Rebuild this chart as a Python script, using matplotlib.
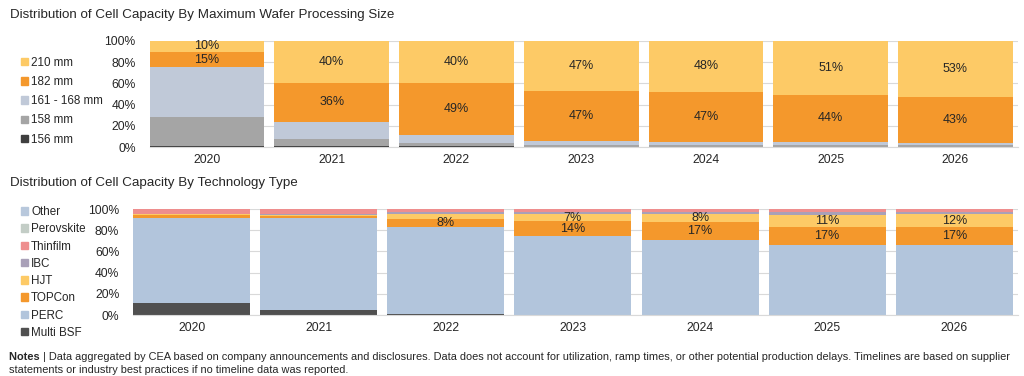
import numpy as np
import matplotlib.pyplot as plt
from matplotlib.patches import Patch

plt.rcParams['font.family'] = ['Liberation Sans', 'DejaVu Sans']

years = ['2020', '2021', '2022', '2023', '2024', '2025', '2026']

# wafer size shares (%)
w156 = [1, 1, 0.5, 0, 0, 0, 0]
w158 = [27, 7, 3.5, 2, 1.5, 2, 2]
w161 = [47, 16, 7, 4, 3.5, 3, 2]
w182 = [15, 36, 49, 47, 47, 44, 43]
w210 = [10, 40, 40, 47, 48, 51, 53]

# technology shares (%)
multi = [11, 4.5, 1, 0.5, 0, 0, 0]
perc = [81, 87, 82, 74, 70.5, 66.5, 66]
topcon = [2, 2, 8, 14, 17, 17, 17]
hjt = [1, 1, 4, 7, 8, 11, 12]
ibc = [0.3, 0.5, 2, 2, 2, 2.5, 2.5]
thinfilm = [4.7, 5, 3, 2.5, 2.5, 3, 2.5]
perovskite = [0, 0, 0, 0, 0, 0, 0]
other = [0, 0, 0, 0, 0, 0, 0]

top_series = [('156 mm', w156, '#3f3f3f', False),
              ('158 mm', w158, '#a5a5a5', False),
              ('161 - 168 mm', w161, '#c0c9d8', False),
              ('182 mm', w182, '#f4982c', True),
              ('210 mm', w210, '#fdca66', True)]

bot_series = [('Multi BSF', multi, '#505050', False),
              ('PERC', perc, '#b2c5dc', False),
              ('TOPCon', topcon, '#f4982c', True),
              ('HJT', hjt, '#fdca66', True),
              ('IBC', ibc, '#a9a0b8', False),
              ('Thinfilm', thinfilm, '#ee8e8e', False),
              ('Perovskite', perovskite, '#c3cdc6', False),
              ('Other', other, '#b8c8dc', False)]

fig = plt.figure(figsize=(10.24, 3.76), dpi=100)
ax1 = fig.add_axes([0.146, 0.609, 0.848, 0.282])
ax2 = fig.add_axes([0.130, 0.162, 0.864, 0.282])

x = np.arange(len(years))


def draw(ax, series, minlab):
    bottom = np.zeros(len(years))
    for name, vals, col, lab in series:
        vals = np.array(vals, dtype=float)
        ax.bar(x, vals, 0.92, bottom=bottom, color=col, zorder=2, linewidth=0)
        if lab:
            for i, v in enumerate(vals):
                if v >= minlab:
                    ax.text(x[i], bottom[i] + v / 2, f'{v:.0f}%', ha='center', va='center',
                            fontsize=9, color='#262626', zorder=3)
        bottom += vals
    ax.set_xlim(-0.46, 6.5)
    ax.set_ylim(0, 100)
    ax.set_yticks([0, 20, 40, 60, 80, 100])
    ax.set_yticklabels([f'{t}%' for t in [0, 20, 40, 60, 80, 100]])
    ax.set_xticks(x)
    ax.set_xticklabels(years)
    ax.yaxis.grid(True, color='#d9d9d9', linewidth=0.8, zorder=0)
    for s in ['top', 'right', 'left']:
        ax.spines[s].set_visible(False)
    ax.spines['bottom'].set_color('#d9d9d9')
    ax.tick_params(length=0, labelsize=8.7, colors='#262626')
    ax.tick_params(axis='x', pad=5)
    ax.tick_params(axis='y', pad=10)


draw(ax1, top_series, 7)
draw(ax2, bot_series, 7)

fig.text(0.01, 0.96, 'Distribution of Cell Capacity By Maximum Wafer Processing Size',
         fontsize=9.6, color='#262626', va='center')
fig.text(0.01, 0.513, 'Distribution of Cell Capacity By Technology Type',
         fontsize=9.6, color='#262626', va='center')

h1 = [Patch(color=c) for n, v, c, l in top_series[::-1]]
fig.legend(h1, [n for n, v, c, l in top_series[::-1]], loc='upper left',
           bbox_to_anchor=(0.01, 0.877), frameon=False, fontsize=8.4,
           handlelength=0.6, handleheight=0.6, handletextpad=0.3, labelspacing=0.62,
           labelcolor='#262626')
h2 = [Patch(color=c) for n, v, c, l in bot_series[::-1]]
fig.legend(h2, [n for n, v, c, l in bot_series[::-1]], loc='upper left',
           bbox_to_anchor=(0.01, 0.48), frameon=False, fontsize=8.4,
           handlelength=0.6, handleheight=0.6, handletextpad=0.3, labelspacing=0.45,
           labelcolor='#262626')

line1 = ('| Data aggregated by CEA based on company announcements and disclosures. Data does not account for '
         'utilization, ramp times, or other potential production delays. Timelines are based on supplier')
line2 = 'statements or industry best practices if no timeline data was reported.'
nt = fig.text(0.009, 0.05, 'Notes ', fontsize=7.9, fontweight='bold', color='#262626', va='center')
fig.canvas.draw()
bb = nt.get_window_extent().transformed(fig.transFigure.inverted())
fig.text(bb.x1, 0.05, line1, fontsize=7.9, color='#262626', va='center')
fig.text(0.009, 0.016, line2, fontsize=7.9, color='#262626', va='center')

fig.savefig('out.png', dpi=100)
